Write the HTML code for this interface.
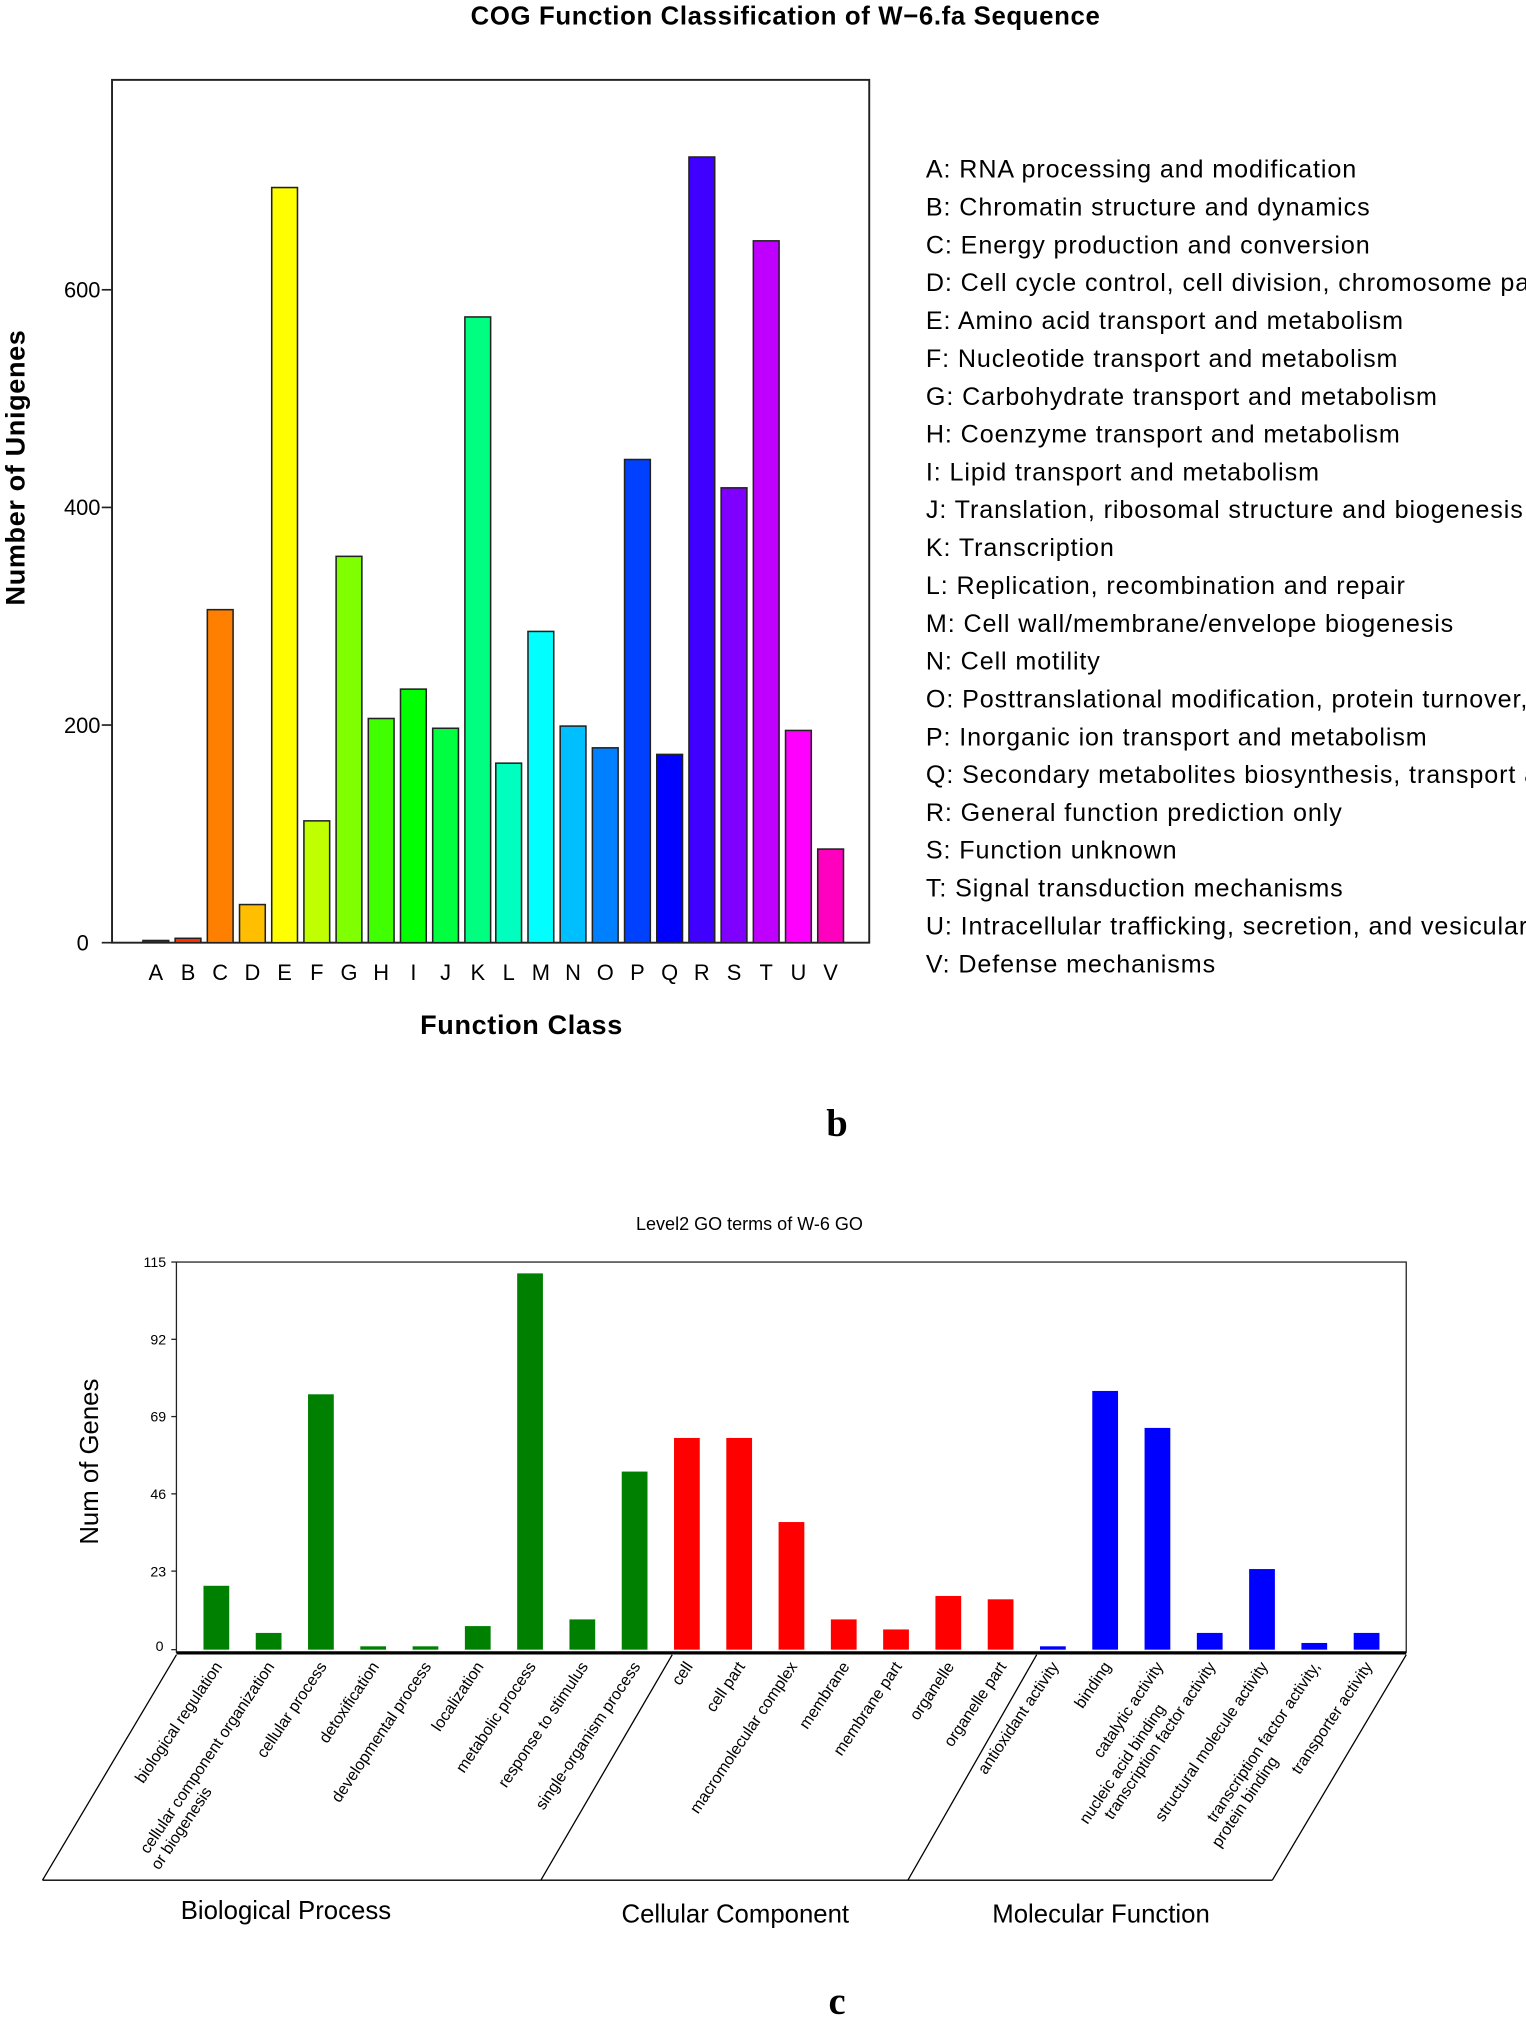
<!DOCTYPE html>
<html><head><meta charset="utf-8"><style>
html,body{margin:0;padding:0;background:#fff;}
svg{display:block;}
text{font-family:"Liberation Sans",Arial,sans-serif;fill:#000;}
</style></head><body>
<svg width="1526" height="2018" viewBox="0 0 1185 1567" xmlns="http://www.w3.org/2000/svg">
<!-- COG chart -->
<text x="610" y="19" text-anchor="middle" font-size="20" font-weight="bold" letter-spacing="0.5">COG Function Classification of W−6.fa Sequence</text>
<rect x="87" y="62" width="588" height="670" fill="none" stroke="#222" stroke-width="1.5"/>
<g stroke="#222" stroke-width="1.3">
<line x1="79" y1="732" x2="87" y2="732"/><line x1="79" y1="563" x2="87" y2="563"/><line x1="79" y1="394" x2="87" y2="394"/><line x1="79" y1="225" x2="87" y2="225"/>
</g>
<g font-size="17" text-anchor="end">
<text x="69" y="738">0</text><text x="78" y="569">200</text><text x="78" y="400">400</text><text x="78" y="231">600</text>
</g>
<text transform="translate(19,363) rotate(-90)" text-anchor="middle" font-size="21" font-weight="bold" letter-spacing="0.5">Number of Unigenes</text>
<g stroke="#222" stroke-width="1.2">
<rect x="111" y="730.3" width="20" height="1.7" fill="#333"/>
<rect x="136" y="728.6" width="20" height="3.4" fill="#ff3300"/>
<rect x="161" y="473.4" width="20" height="258.6" fill="#ff8000"/>
<rect x="186" y="702.4" width="20" height="29.6" fill="#ffbf00"/>
<rect x="211" y="145.6" width="20" height="586.4" fill="#ffff00"/>
<rect x="236" y="637.4" width="20" height="94.6" fill="#bfff00"/>
<rect x="261" y="432" width="20" height="300" fill="#80ff00"/>
<rect x="286" y="557.9" width="20" height="174.1" fill="#40ff00"/>
<rect x="311" y="535.1" width="20" height="196.9" fill="#00ff00"/>
<rect x="336" y="565.5" width="20" height="166.5" fill="#00ff40"/>
<rect x="361" y="246.1" width="20" height="485.9" fill="#00ff80"/>
<rect x="385" y="592.6" width="20" height="139.4" fill="#00ffbf"/>
<rect x="410" y="490.3" width="20" height="241.7" fill="#00ffff"/>
<rect x="435" y="563.8" width="20" height="168.2" fill="#00bfff"/>
<rect x="460" y="580.7" width="20" height="151.3" fill="#0080ff"/>
<rect x="485" y="356.8" width="20" height="375.2" fill="#0040ff"/>
<rect x="510" y="585.8" width="20" height="146.2" fill="#0000ff"/>
<rect x="535" y="121.9" width="20" height="610.1" fill="#4000ff"/>
<rect x="560" y="378.8" width="20" height="353.2" fill="#8000ff"/>
<rect x="585" y="187" width="20" height="545" fill="#bf00ff"/>
<rect x="610" y="567.2" width="20" height="164.8" fill="#ff00ff"/>
<rect x="635" y="659.3" width="20" height="72.7" fill="#ff00bf"/>
</g>
<g font-size="17" text-anchor="middle">
<text x="121" y="761">A</text><text x="146" y="761">B</text><text x="171" y="761">C</text><text x="196" y="761">D</text><text x="221" y="761">E</text><text x="246" y="761">F</text><text x="271" y="761">G</text><text x="296" y="761">H</text><text x="321" y="761">I</text><text x="346" y="761">J</text><text x="371" y="761">K</text><text x="395" y="761">L</text><text x="420" y="761">M</text><text x="445" y="761">N</text><text x="470" y="761">O</text><text x="495" y="761">P</text><text x="520" y="761">Q</text><text x="545" y="761">R</text><text x="570" y="761">S</text><text x="595" y="761">T</text><text x="620" y="761">U</text><text x="645" y="761">V</text>
</g>
<text x="405" y="803" text-anchor="middle" font-size="21" font-weight="bold" letter-spacing="0.5">Function Class</text>
<g font-size="19.5" letter-spacing="0.7">
<text x="719" y="138">A: RNA processing and modification</text>
<text x="719" y="167.4">B: Chromatin structure and dynamics</text>
<text x="719" y="196.8">C: Energy production and conversion</text>
<text x="719" y="226.1">D: Cell cycle control, cell division, chromosome partitioning</text>
<text x="719" y="255.5">E: Amino acid transport and metabolism</text>
<text x="719" y="284.9">F: Nucleotide transport and metabolism</text>
<text x="719" y="314.3">G: Carbohydrate transport and metabolism</text>
<text x="719" y="343.7">H: Coenzyme transport and metabolism</text>
<text x="719" y="373">I: Lipid transport and metabolism</text>
<text x="719" y="402.4">J: Translation, ribosomal structure and biogenesis</text>
<text x="719" y="431.8">K: Transcription</text>
<text x="719" y="461.2">L: Replication, recombination and repair</text>
<text x="719" y="490.6">M: Cell wall/membrane/envelope biogenesis</text>
<text x="719" y="519.9">N: Cell motility</text>
<text x="719" y="549.3">O: Posttranslational modification, protein turnover, chaperones</text>
<text x="719" y="578.7">P: Inorganic ion transport and metabolism</text>
<text x="719" y="608.1">Q: Secondary metabolites biosynthesis, transport and catabolism</text>
<text x="719" y="637.5">R: General function prediction only</text>
<text x="719" y="666.8">S: Function unknown</text>
<text x="719" y="696.2">T: Signal transduction mechanisms</text>
<text x="719" y="725.6">U: Intracellular trafficking, secretion, and vesicular transport</text>
<text x="719" y="755">V: Defense mechanisms</text>
</g>
<text x="650" y="882" text-anchor="middle" font-size="30" font-weight="bold" style="font-family:'Liberation Serif',serif">b</text>

<!-- GO chart -->
<text x="582" y="955" text-anchor="middle" font-size="14">Level2 GO terms of W-6 GO</text>
<rect x="137" y="980" width="955" height="303" fill="none" stroke="#222" stroke-width="1"/>
<line x1="137" y1="1283.5" x2="1092" y2="1283.5" stroke="#000" stroke-width="2.5"/>
<g stroke="#222" stroke-width="1">
<line x1="133" y1="980" x2="137" y2="980"/><line x1="133" y1="1040" x2="137" y2="1040"/><line x1="133" y1="1100" x2="137" y2="1100"/><line x1="133" y1="1160" x2="137" y2="1160"/><line x1="133" y1="1220" x2="137" y2="1220"/><line x1="133" y1="1281" x2="137" y2="1281"/>
</g>
<g font-size="11" text-anchor="end">
<text x="129" y="984">115</text><text x="129" y="1044">92</text><text x="129" y="1104">69</text><text x="129" y="1164">46</text><text x="129" y="1224">23</text><text x="127" y="1282">0</text>
</g>
<text transform="translate(76,1135) rotate(-90)" text-anchor="middle" font-size="20">Num of Genes</text>
<g fill="#008000">
<rect x="158" y="1231.4" width="20" height="49.6"/>
<rect x="198.6" y="1268" width="20" height="13"/>
<rect x="239.2" y="1082.7" width="20" height="198.3"/>
<rect x="279.8" y="1278.4" width="20" height="2.6"/>
<rect x="320.4" y="1278.4" width="20" height="2.6"/>
<rect x="361" y="1262.7" width="20" height="18.3"/>
<rect x="401.6" y="988.8" width="20" height="292.2"/>
<rect x="442.2" y="1257.5" width="20" height="23.5"/>
<rect x="482.8" y="1142.7" width="20" height="138.3"/>
</g>
<g fill="#ff0000">
<rect x="523.4" y="1116.6" width="20" height="164.4"/>
<rect x="564" y="1116.6" width="20" height="164.4"/>
<rect x="604.6" y="1181.9" width="20" height="99.1"/>
<rect x="645.2" y="1257.5" width="20" height="23.5"/>
<rect x="685.8" y="1265.3" width="20" height="15.7"/>
<rect x="726.4" y="1239.3" width="20" height="41.7"/>
<rect x="767" y="1241.9" width="20" height="39.1"/>
</g>
<g fill="#0000ff">
<rect x="807.6" y="1278.4" width="20" height="2.6"/>
<rect x="848.2" y="1080.1" width="20" height="200.9"/>
<rect x="888.8" y="1108.8" width="20" height="172.2"/>
<rect x="929.4" y="1268" width="20" height="13"/>
<rect x="970" y="1218.4" width="20" height="62.6"/>
<rect x="1010.6" y="1275.8" width="20" height="5.2"/>
<rect x="1051.2" y="1268" width="20" height="13"/>
</g>
<g stroke="#000" stroke-width="1" fill="none">
<line x1="137" y1="1285" x2="33" y2="1460"/>
<line x1="522" y1="1285" x2="420" y2="1460"/>
<line x1="805" y1="1285" x2="705" y2="1460"/>
<line x1="1092" y1="1285" x2="988" y2="1460"/>
<line x1="33" y1="1460" x2="988" y2="1460"/>
</g>
<g font-size="12.5" text-anchor="end">
<text transform="translate(173,1294) rotate(-56)">biological regulation</text>
<g transform="translate(213.6,1294) rotate(-56)"><text>cellular component organization</text><text x="-182" y="14" text-anchor="start">or biogenesis</text></g>
<text transform="translate(254.2,1294) rotate(-56)">cellular process</text>
<text transform="translate(294.8,1294) rotate(-56)">detoxification</text>
<text transform="translate(335.4,1294) rotate(-56)">developmental process</text>
<text transform="translate(376,1294) rotate(-56)">localization</text>
<text transform="translate(416.6,1294) rotate(-56)">metabolic process</text>
<text transform="translate(457.2,1294) rotate(-56)">response to stimulus</text>
<text transform="translate(497.8,1294) rotate(-56)">single-organism process</text>
<text transform="translate(538.4,1294) rotate(-56)">cell</text>
<text transform="translate(579,1294) rotate(-56)">cell part</text>
<text transform="translate(619.6,1294) rotate(-56)">macromolecular complex</text>
<text transform="translate(660.2,1294) rotate(-56)">membrane</text>
<text transform="translate(700.8,1294) rotate(-56)">membrane part</text>
<text transform="translate(741.4,1294) rotate(-56)">organelle</text>
<text transform="translate(782,1294) rotate(-56)">organelle part</text>
<text transform="translate(822.6,1294) rotate(-56)">antioxidant activity</text>
<text transform="translate(863.2,1294) rotate(-56)">binding</text>
<text transform="translate(903.8,1294) rotate(-56)">catalytic activity</text>
<g transform="translate(944.4,1294) rotate(-56)"><text x="-158" y="-14" text-anchor="start">nucleic acid binding</text><text>transcription factor activity</text></g>
<text transform="translate(985,1294) rotate(-56)">structural molecule activity</text>
<g transform="translate(1025.6,1294) rotate(-56)"><text>transcription factor activity,</text><text x="-161" y="14" text-anchor="start">protein binding</text></g>
<text transform="translate(1066.2,1294) rotate(-56)">transporter activity</text>
</g>
<g font-size="20" text-anchor="middle">
<text x="222" y="1490">Biological Process</text>
<text x="571" y="1493">Cellular Component</text>
<text x="855" y="1493">Molecular Function</text>
</g>
<text x="650" y="1564" text-anchor="middle" font-size="30" font-weight="bold" style="font-family:'Liberation Serif',serif">c</text>
</svg>
</body></html>
